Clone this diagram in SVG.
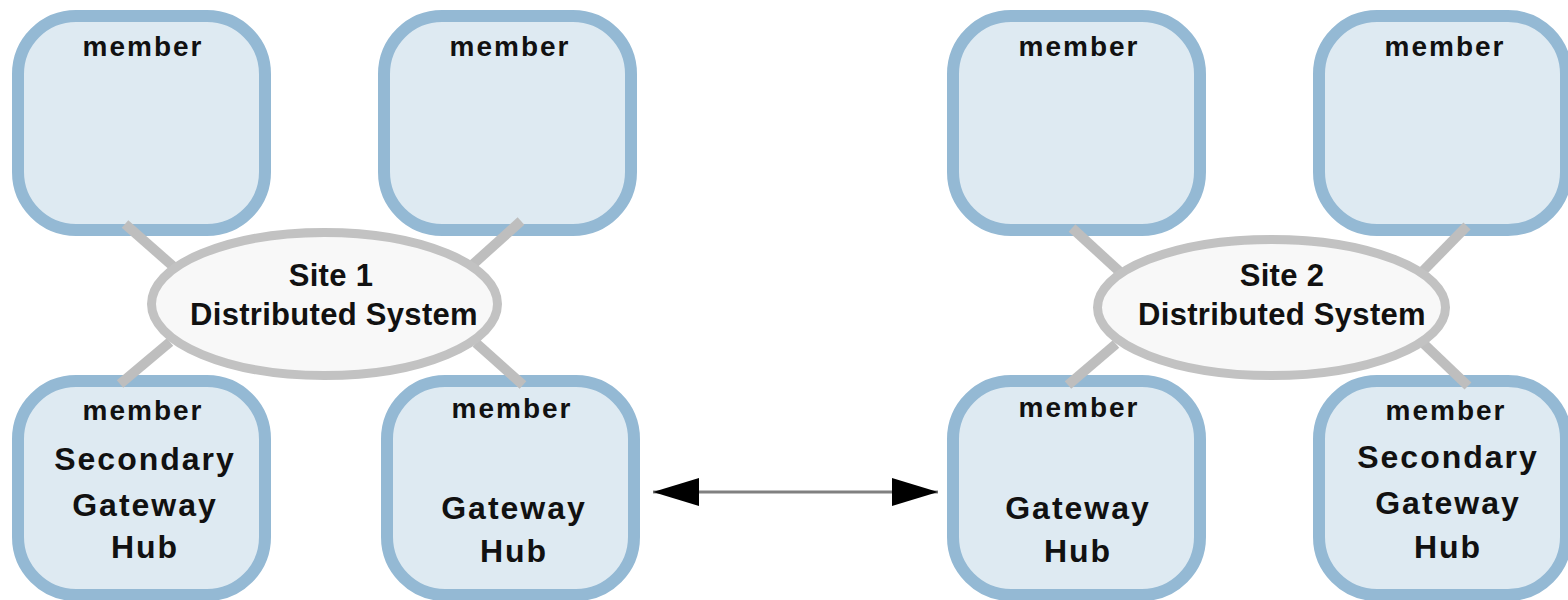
<svg xmlns="http://www.w3.org/2000/svg" width="1568" height="600" viewBox="0 0 1568 600">
  <defs>
    <style>
      .box { fill: #deeaf2; stroke: #94b9d4; stroke-width: 12; }
      .site { fill: #f8f8f8; stroke: #c2c2c2; stroke-width: 9; }
      .spoke { stroke: #bebebe; stroke-width: 10; stroke-linecap: butt; fill: none; }
      .link { stroke: #808080; stroke-width: 3; fill: none; }
      .member { font-family: "Liberation Sans", Arial, sans-serif; font-weight: bold; font-size: 28px; letter-spacing: 2px; fill: #111; text-anchor: middle; }
      .role { font-family: "Liberation Sans", Arial, sans-serif; font-weight: bold; font-size: 32px; letter-spacing: 2px; fill: #111; text-anchor: middle; }
      .sitelabel { font-family: "Liberation Sans", Arial, sans-serif; font-weight: bold; font-size: 31px; letter-spacing: 0.3px; fill: #111; text-anchor: middle; }
    </style>
    <marker id="head-end" markerWidth="46" markerHeight="28" refX="46" refY="14" orient="auto" markerUnits="userSpaceOnUse">
      <path d="M0,0 L46,14 L0,28 Z" fill="#000"/>
    </marker>
    <marker id="head-start" markerWidth="46" markerHeight="28" refX="0" refY="14" orient="auto" markerUnits="userSpaceOnUse">
      <path d="M46,0 L0,14 L46,28 Z" fill="#000"/>
    </marker>
  </defs>

  <rect width="1568" height="600" fill="#ffffff"/>

  <!-- Site 1 members -->
  <g id="s1-member-tl">
    <rect class="box" x="18" y="16" width="247" height="214" rx="58"/>
    <text class="member" x="143" y="56">member</text>
  </g>
  <g id="s1-member-tr">
    <rect class="box" x="384" y="16" width="247" height="214" rx="58"/>
    <text class="member" x="510" y="56">member</text>
  </g>
  <g id="s1-secondary-hub">
    <rect class="box" x="18" y="381" width="247" height="214" rx="58"/>
    <text class="member" x="143" y="420">member</text>
    <text class="role" x="145" y="470">Secondary</text>
    <text class="role" x="145" y="516">Gateway</text>
    <text class="role" x="145" y="558">Hub</text>
  </g>
  <g id="s1-gateway-hub">
    <rect class="box" x="387" y="381" width="247" height="214" rx="58"/>
    <text class="member" x="512" y="418">member</text>
    <text class="role" x="514" y="519">Gateway</text>
    <text class="role" x="514" y="562">Hub</text>
  </g>

  <!-- Site 2 members -->
  <g id="s2-member-tl">
    <rect class="box" x="953" y="16" width="247" height="214" rx="58"/>
    <text class="member" x="1079" y="56">member</text>
  </g>
  <g id="s2-member-tr">
    <rect class="box" x="1319" y="16" width="247" height="214" rx="58"/>
    <text class="member" x="1445" y="56">member</text>
  </g>
  <g id="s2-gateway-hub">
    <rect class="box" x="953" y="381" width="247" height="214" rx="58"/>
    <text class="member" x="1079" y="417">member</text>
    <text class="role" x="1078" y="519">Gateway</text>
    <text class="role" x="1078" y="562">Hub</text>
  </g>
  <g id="s2-secondary-hub">
    <rect class="box" x="1319" y="381" width="247" height="214" rx="58"/>
    <text class="member" x="1446" y="420">member</text>
    <text class="role" x="1448" y="468">Secondary</text>
    <text class="role" x="1448" y="514">Gateway</text>
    <text class="role" x="1448" y="558">Hub</text>
  </g>

  <!-- Connectors: membership spokes and the hub-to-hub link -->
  <g id="connectors">
    <line class="spoke" x1="125" y1="224" x2="175" y2="268"/>
    <line class="spoke" x1="521" y1="221" x2="470" y2="267"/>
    <line class="spoke" x1="120" y1="384" x2="170" y2="342"/>
    <line class="spoke" x1="523" y1="385" x2="476" y2="343"/>

    <line class="spoke" x1="1072" y1="228" x2="1120" y2="272"/>
    <line class="spoke" x1="1467" y1="226" x2="1422" y2="272"/>
    <line class="spoke" x1="1068" y1="385" x2="1116" y2="344"/>
    <line class="spoke" x1="1468" y1="386" x2="1424" y2="344"/>

    <line class="link" x1="653" y1="492" x2="938" y2="492" marker-start="url(#head-start)" marker-end="url(#head-end)"/>
  </g>

  <!-- Site ellipses -->
  <g id="site1">
    <ellipse class="site" cx="324.5" cy="304" rx="173" ry="71.5"/>
    <text class="sitelabel" x="331" y="286">Site 1</text>
    <text class="sitelabel" x="334" y="325">Distributed System</text>
  </g>
  <g id="site2">
    <ellipse class="site" cx="1271.5" cy="307.5" rx="174" ry="68"/>
    <text class="sitelabel" x="1282" y="286">Site 2</text>
    <text class="sitelabel" x="1282" y="325">Distributed System</text>
  </g>
</svg>
